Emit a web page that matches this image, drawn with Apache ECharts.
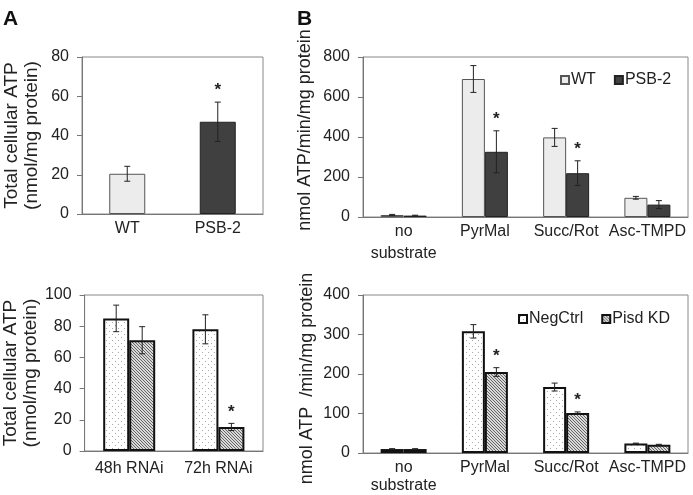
<!DOCTYPE html>
<html>
<head>
<meta charset="utf-8">
<script src="https://cdn.jsdelivr.net/npm/echarts@6/dist/echarts.min.js"></script>
<style>
html, body { margin: 0; padding: 0; background: #fff; }
#chart { width: 693px; height: 495px; }
</style>
</head>
<body>
<div id="chart"></div>
<script>
// panel A, top: total cellular ATP
var atpCats = ['WT', 'PSB-2'];
var atpVals = [20.5, 47];
var atpErr = [3.8, 10];
var atpSig = [0, 1];

// panel B, top: ATP synthesis per substrate
var subCats = ['no\nsubstrate', 'PyrMal', 'Succ/Rot', 'Asc-TMPD'];
var wtRate = [10, 690, 398, 96];
var wtRateErr = [3, 67, 45, 7];
var psbRate = [7, 326, 219, 62];
var psbRateErr = [2, 105, 62, 20];
var psbSig = [0, 1, 1, 0];

// panel A, bottom: RNAi time course
var rnaiCats = ['48h RNAi', '72h RNAi'];
var negAtp = [85, 78];
var negAtpErr = [8.5, 9.3];
var kdAtp = [71, 15.4];
var kdAtpErr = [8.7, 2.3];
var kdAtpSig = [0, 1];

// panel B, bottom
var negRate = [10, 308, 167, 24];
var negRateErr = [1, 17, 10, 1];
var kdRate = [10, 205, 101, 21];
var kdRateErr = [1, 11, 3, 1];
var kdRateSig = [0, 1, 1, 0];

var FONT = 'Liberation Sans, Arial, sans-serif';
var chart = echarts.init(document.getElementById('chart'));

function dotPattern() {
    var c = document.createElement('canvas');
    c.width = 6; c.height = 6;
    var g = c.getContext('2d');
    g.fillStyle = '#fff';
    g.fillRect(0, 0, 6, 6);
    g.fillStyle = '#a8a8a8';
    g.fillRect(1, 1, 1, 1);
    g.fillRect(4, 4, 1, 1);
    return c;
}
function hatchPattern() {
    var c = document.createElement('canvas');
    c.width = 3; c.height = 3;
    var g = c.getContext('2d');
    g.fillStyle = '#d8d8d8';
    g.fillRect(0, 0, 3, 3);
    g.strokeStyle = '#666';
    g.lineWidth = 1;
    g.beginPath();
    g.moveTo(-1, -1); g.lineTo(4, 4);
    g.moveTo(-1, 2); g.lineTo(1, 4);
    g.moveTo(2, -1); g.lineTo(4, 1);
    g.stroke();
    return c;
}
var dots = { image: dotPattern(), repeat: 'repeat' };
var hatch = { image: hatchPattern(), repeat: 'repeat' };

function errSeries(idx, vals, errs, sig, offset) {
    var data = vals.map(function (v, i) {
        return [i, v, errs[i], sig ? sig[i] : 0];
    });
    return {
        type: 'custom',
        xAxisIndex: idx,
        yAxisIndex: idx,
        z: 10,
        silent: true,
        data: data,
        renderItem: function (params, api) {
            var i = api.value(0), v = api.value(1), e = api.value(2);
            var hi = api.coord([i, v + e]);
            var lo = api.coord([i, v - e]);
            var x = hi[0] + offset;
            var st = { stroke: '#222', lineWidth: 1 };
            var kids = [
                { type: 'line', shape: { x1: x, y1: hi[1], x2: x, y2: lo[1] }, style: st },
                { type: 'line', shape: { x1: x - 3, y1: hi[1], x2: x + 3, y2: hi[1] }, style: st },
                { type: 'line', shape: { x1: x - 3, y1: lo[1], x2: x + 3, y2: lo[1] }, style: st }
            ];
            if (api.value(3)) {
                kids.push({
                    type: 'text',
                    style: {
                        text: '*', x: x, y: hi[1] - 3,
                        align: 'center', verticalAlign: 'bottom',
                        font: 'bold 17px ' + FONT, fill: '#222'
                    }
                });
            }
            return { type: 'group', children: kids };
        }
    };
}

function xAx(idx, cats, margin, lh) {
    return {
        type: 'category', gridIndex: idx, data: cats,
        axisLine: { lineStyle: { color: '#777' } },
        axisTick: { show: false },
        axisLabel: { color: '#222', fontSize: 16, fontFamily: FONT, margin: margin, lineHeight: lh, interval: 0 }
    };
}
function yAx(idx, max, step, name, gap, fs, pad) {
    return {
        type: 'value', gridIndex: idx, min: 0, max: max, interval: step,
        name: name, nameLocation: 'middle', nameRotate: 90, nameGap: gap,
        nameTextStyle: { color: '#222', fontSize: fs, fontFamily: FONT, lineHeight: 20, padding: pad },
        axisLine: { show: true, lineStyle: { color: '#777' } },
        axisTick: { show: true, length: 5, lineStyle: { color: '#777' } },
        axisLabel: { color: '#222', fontSize: 16, fontFamily: FONT, margin: 13 },
        splitLine: { show: false }
    };
}

var boxGrid = { show: true, borderColor: '#888', borderWidth: 1, backgroundColor: 'transparent', containLabel: false };
var legendText = { fontSize: 16, fontFamily: FONT, color: '#222', padding: [0, 0, 0, -3] };

var option = {
    animation: false,
    title: [
        { text: 'A', left: -2, top: 4, textStyle: { fontSize: 21, fontWeight: 'bold', fontFamily: FONT, color: '#111' } },
        { text: 'B', left: 292, top: 4, textStyle: { fontSize: 21, fontWeight: 'bold', fontFamily: FONT, color: '#111' } }
    ],
    legend: [
        {
            data: ['WT', 'PSB-2'], left: 555, top: 67, icon: 'rect', itemWidth: 8, itemHeight: 8, itemGap: 18,
            textStyle: legendText
        },
        {
            data: ['NegCtrl', 'Pisd KD'], left: 513, top: 306, icon: 'rect', itemWidth: 8, itemHeight: 8, itemGap: 18,
            textStyle: legendText
        }
    ],
    grid: [
        Object.assign({ left: 82, top: 57, width: 181, height: 157 }, boxGrid),
        Object.assign({ left: 363, top: 57, width: 325, height: 160 }, boxGrid),
        Object.assign({ left: 79, top: 295, width: 184, height: 156 }, boxGrid),
        Object.assign({ left: 363, top: 295, width: 325, height: 159 }, boxGrid)
    ],
    xAxis: [
        xAx(0, atpCats, 5, 20),
        xAx(1, subCats, 4, 22),
        xAx(2, rnaiCats, 8, 20),
        xAx(3, subCats, 6, 18)
    ],
    yAxis: [
        yAx(0, 80, 20, 'Total cellular ATP\n(nmol/mg protein)', 40, 19, 0),
        yAx(1, 800, 200, 'nmol ATP/min/mg protein', 48, 18, [0, 0, 0, 14]),
        yAx(2, 100, 20, 'Total cellular ATP\n(nmol/mg protein)', 37, 19, 0),
        yAx(3, 400, 100, 'nmol ATP  /min/mg protein', 46, 18, [0, 9, 0, 0])
    ],
    series: [
        {
            name: 'total', type: 'bar', xAxisIndex: 0, yAxisIndex: 0, barWidth: 36,
            data: atpVals.map(function (v, i) {
                return {
                    value: v,
                    itemStyle: i === 0
                        ? { color: '#ececec', borderColor: '#555', borderWidth: 1 }
                        : { color: '#404040', borderColor: '#222', borderWidth: 1 }
                };
            })
        },
        errSeries(0, atpVals, atpErr, atpSig, 0),

        {
            name: 'WT', type: 'bar', xAxisIndex: 1, yAxisIndex: 1, barWidth: 23, barGap: '0%',
            itemStyle: { color: '#ececec', borderColor: '#555', borderWidth: 1 },
            data: wtRate
        },
        {
            name: 'PSB-2', type: 'bar', xAxisIndex: 1, yAxisIndex: 1, barWidth: 23, barGap: '0%',
            itemStyle: { color: '#404040', borderColor: '#222', borderWidth: 1 },
            data: psbRate
        },
        errSeries(1, wtRate, wtRateErr, null, -11.5),
        errSeries(1, psbRate, psbRateErr, psbSig, 11.5),

        {
            name: 'neg48', type: 'bar', xAxisIndex: 2, yAxisIndex: 2, barWidth: 26, barGap: '0%',
            itemStyle: { color: dots, borderColor: '#111', borderWidth: 2 },
            data: negAtp
        },
        {
            name: 'kd48', type: 'bar', xAxisIndex: 2, yAxisIndex: 2, barWidth: 26, barGap: '0%',
            itemStyle: { color: hatch, borderColor: '#111', borderWidth: 2 },
            data: kdAtp
        },
        errSeries(2, negAtp, negAtpErr, null, -13),
        errSeries(2, kdAtp, kdAtpErr, kdAtpSig, 13),

        {
            name: 'NegCtrl', type: 'bar', xAxisIndex: 3, yAxisIndex: 3, barWidth: 23, barGap: '0%',
            itemStyle: { color: dots, borderColor: '#111', borderWidth: 2 },
            data: negRate
        },
        {
            name: 'Pisd KD', type: 'bar', xAxisIndex: 3, yAxisIndex: 3, barWidth: 23, barGap: '0%',
            itemStyle: { color: hatch, borderColor: '#111', borderWidth: 2 },
            data: kdRate
        },
        errSeries(3, negRate, negRateErr, null, -11.5),
        errSeries(3, kdRate, kdRateErr, kdRateSig, 11.5)
    ]
};
chart.setOption(option);
</script>
</body>
</html>
